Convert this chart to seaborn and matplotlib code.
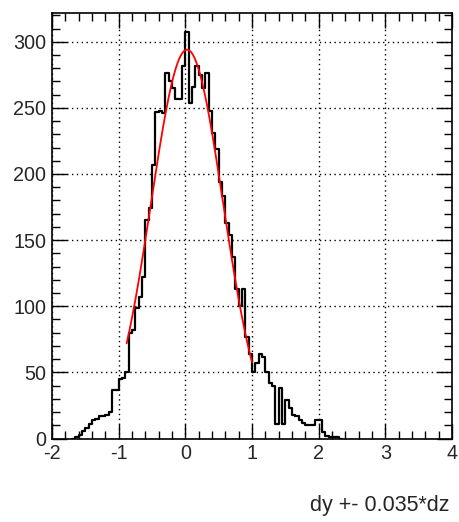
import numpy as np
import pandas as pd
import matplotlib
matplotlib.use("Agg")
import matplotlib.pyplot as plt
from matplotlib.ticker import MultipleLocator, FuncFormatter
import seaborn as sns

# ---- data ----
bin_width = 0.05
x_low = -1.70  # first bin low edge listed below
counts = [
    0, 1, 3, 6, 8, 11, 14, 15, 17, 17,          # -1.70 .. -1.25
    18, 20, 37, 37, 45, 46, 50, 80, 82, 99,     # -1.20 .. -0.75
    107, 122, 165, 174, 207, 247, 248, 246, 276, 270,  # -0.70 .. -0.25
    265, 257, 257, 282, 307, 254, 266, 282, 275, 265,  # -0.20 .. 0.25
    276, 248, 231, 219, 194, 183, 163, 154, 137, 113,  # 0.30 .. 0.75
    100, 113, 77, 64, 50, 57, 64, 62, 50, 42,   # 0.80 .. 1.25
    40, 11, 38, 11, 29, 23, 18, 17, 14, 12,     # 1.30 .. 1.75
    10, 10, 10, 14, 14, 5, 2, 1, 1, 1,          # 1.80 .. 2.25
    0,
]
# Gaussian fit parameters (red curve)
fit_amp = 294.0
fit_mean = 0.026
fit_sigma = 0.54
fit_range = (-0.88, 1.0)

x_limits = (-2, 4)
y_limits = (0, 321.5)
x_label = "dy +- 0.035*dz"

# ---- build tables ----
n = len(counts)
edges = x_low + bin_width * np.arange(n + 1)
centers = edges[:-1] + bin_width / 2
hist_df = pd.DataFrame({"x": centers, "w": np.asarray(counts, dtype=float)})
fx = np.linspace(fit_range[0], fit_range[1], 300)
fit_df = pd.DataFrame({"x": fx,
                       "y": fit_amp * np.exp(-0.5 * ((fx - fit_mean) / fit_sigma) ** 2)})

sns.set_theme(style="white")
plt.rcParams["font.family"] = ["Liberation Sans", "DejaVu Sans"]
plt.rcParams["axes.unicode_minus"] = False

fig = plt.figure(figsize=(4.6, 5.22), dpi=100)
ax = fig.add_axes([52 / 460, 1 - 438.5 / 522, 400 / 460, (438.5 - 13.3) / 522])

sns.histplot(data=hist_df, x="x", weights="w", binwidth=bin_width,
             binrange=(float(edges[0]), float(edges[-1])), element="step",
             fill=False, color="black", linewidth=1.6, ax=ax)
sns.lineplot(data=fit_df, x="x", y="y", color="red", linewidth=1.3, ax=ax)

ax.set_xlim(*x_limits)
ax.set_ylim(*y_limits)
ax.xaxis.set_major_locator(MultipleLocator(1))
ax.xaxis.set_minor_locator(MultipleLocator(0.2))
ax.yaxis.set_major_locator(MultipleLocator(50))
ax.yaxis.set_minor_locator(MultipleLocator(10))
ax.grid(True, which="major", color="black", linestyle=(0, (1, 2.5)), linewidth=1.0)
ax.tick_params(which="both", direction="in", top=True, right=True,
               bottom=True, left=True, color="black", labelsize=14.2)
ax.tick_params(axis="x", which="major", pad=4)
ax.tick_params(axis="y", which="major", pad=4)
ax.tick_params(which="major", length=11, width=1.0)
ax.tick_params(which="minor", length=6, width=1.0)
for s in ax.spines.values():
    s.set_color("black")
    s.set_linewidth(1.2)
ax.set_xlabel("")
ax.set_ylabel("")
ax.xaxis.set_major_formatter(FuncFormatter(lambda v, p: f"{v:g}"))
ax.yaxis.set_major_formatter(FuncFormatter(lambda v, p: f"{v:g}"))

fig.text(450 / 460, 1 - 506 / 522, x_label, ha="right", va="center", fontsize=15.5)

fig.savefig("out.png", dpi=100)
